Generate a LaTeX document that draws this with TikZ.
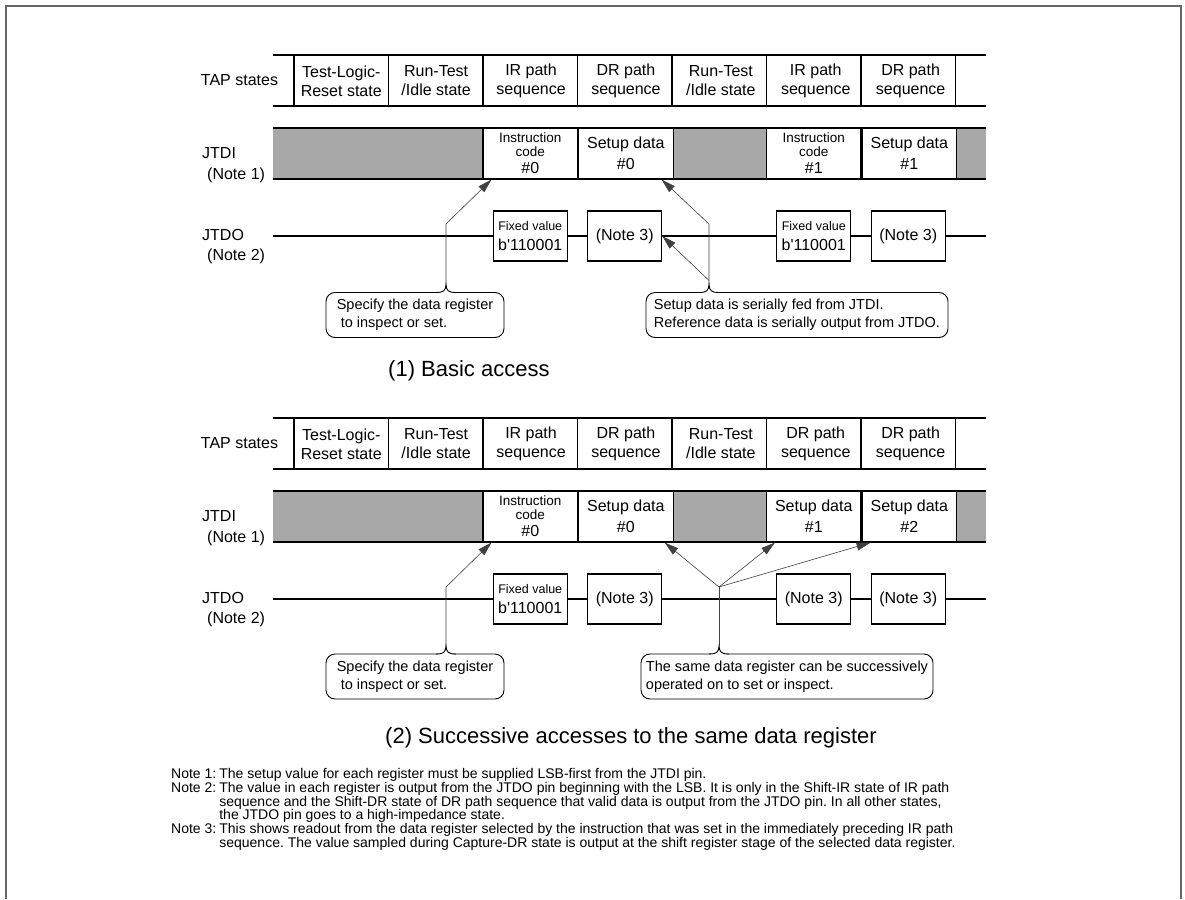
\documentclass[tikz,border=0pt]{standalone}
\usepackage{fontspec}
\setmainfont{Liberation Sans}
\usetikzlibrary{arrows.meta, positioning}
\definecolor{bandgray}{RGB}{168,168,168}
\newcommand\hookat[1]{%
  \draw[white, line width=2.5pt] ([xshift=-8pt]#1) -- ([xshift=8pt]#1);
  \draw[line width=0.9pt] ([xshift=-10pt]#1) .. controls ([xshift=-2pt]#1) and ([xshift=-0.5pt,yshift=2pt]#1) .. ([yshift=8pt]#1)
    .. controls ([xshift=0.5pt,yshift=2pt]#1) and ([xshift=2pt]#1) .. ([xshift=10pt]#1);}
\tikzset{
  rowline/.style={line width=1.8pt},
  sepline/.style={line width=1.1pt},
  lbl/.style={font=\fontsize{16}{19}\selectfont, inner sep=0pt},
  statecell/.style={lbl, align=center, minimum width=94.5pt, minimum height=50pt},
  datacell/.style={draw, sepline, fill=white, minimum width=94.5pt, minimum height=51pt,
    align=center, inner sep=0pt, font=\fontsize{16}{21}\selectfont},
  instrcell/.style={datacell, font=\fontsize{13.5}{14}\selectfont},
  valbox/.style={draw, sepline, fill=white, minimum width=74pt, minimum height=50pt,
    align=center, inner sep=0pt, font=\fontsize{16}{19}\selectfont},
  fixbox/.style={valbox, font=\fontsize{12.5}{20}\selectfont},
  callbox/.style={draw, line width=0.9pt, rounded corners=9pt, align=left, inner sep=0pt,
    minimum height=45pt, font=\fontsize{14.5}{18}\selectfont},
  caption/.style={anchor=west, inner sep=0pt, font=\fontsize{22}{26}\selectfont},
  ptr/.style={draw=black!75, line width=0.6pt, -{Triangle[length=14pt,width=8pt]}},
  ptrline/.style={draw=black!75, line width=0.6pt}
}

\begin{document}
\frenchspacing
\begin{tikzpicture}[x=1pt, y=-1pt]
\useasboundingbox (0,0) rectangle (1185,899);
\draw[draw=black!60, line width=2pt] (6,899) -- (6,6) -- (1181,6) -- (1181,899);

% (1) basic access
\node[lbl] (tap1) at (239.5,80) {TAP states};
\draw[rowline] (273,55) -- (986,55);
\draw[rowline] (273,106) -- (986,106);
\foreach \x in {294,388.5,...,956} \draw[sepline] (\x,55) -- (\x,106);
\node[statecell] (st11) at (341.25,81) {Test-Logic-\\Reset state};
\node[statecell, right=0pt of st11] (st12) {Run-Test\\/Idle state};
\node[statecell, right=0pt of st12] (st13) {IR path\\sequence};
\node[statecell, right=0pt of st13] (st14) {DR path\\sequence};
\node[statecell, right=0pt of st14] (st15) {Run-Test\\/Idle state};
\node[statecell, right=0pt of st15] (st16) {IR path\\sequence};
\node[statecell, right=0pt of st16] (st17) {DR path\\sequence};

\node[lbl, anchor=west, align=left] (jtdi1) at (202,165.5) {JTDI\\[2pt]\hspace{5pt}(Note 1)};
\fill[bandgray] (273,128) rectangle (986,179);
\node[instrcell] (ic0) at (530.25,153.5) {Instruction\\code\\[3pt]\fontsize{16}{19}\selectfont\#0};
\node[datacell, right=0pt of ic0] (sd0) {Setup data\\\#0};
\node[instrcell] (ic1) at (813.75,153.5) {Instruction\\code\\[3pt]\fontsize{16}{19}\selectfont\#1};
\node[datacell, right=0pt of ic1] (sd1) {Setup data\\\#1};
\draw[rowline] (273,128) -- (986,128);
\draw[rowline] (273,179) -- (986,179);

\node[lbl, anchor=west, align=left] (jtdo1) at (202,247) {JTDO\\[1pt]\hspace{5pt}(Note 2)};
\draw[line width=1.4pt] (273,236) -- (986,236);
\node[fixbox] (fv0) at (530.25,236) {Fixed value\\\fontsize{16}{19}\selectfont b\textquotesingle 110001};
\node[valbox] (nt0) at (624.75,236) {(Note 3)};
\node[fixbox] (fv1) at (813.75,236) {Fixed value\\\fontsize{16}{19}\selectfont b\textquotesingle 110001};
\node[valbox] (nt1) at (908.25,236) {(Note 3)};

\node[callbox, minimum width=178pt] (spec1) at (415,315) {Specify the data register\\\hspace{4pt}to inspect or set.};
\node[callbox, minimum width=302pt] (feed1) at (797,315) {Setup data is serially fed from JTDI.\\Reference data is serially output from JTDO.};
\coordinate (hk1) at (446,292.5);
\coordinate (hk2) at (709,292.5);
\hookat{hk1}
\hookat{hk2}
\coordinate (bend1) at (446,224);
\coordinate (bend2) at (709,224);
\draw[ptr] ([yshift=8pt]hk1) -- (bend1) -- ([xshift=9pt]ic0.south west);
\draw[ptr] ([yshift=8pt]hk2) -- (bend2) -- ([xshift=-12pt]sd0.south east);
\draw[ptr] ([yshift=12pt]hk2) -- (nt0.east);
\node[caption] (cap1) at (388,371) {(1) Basic access};

% (2) successive accesses
\begin{scope}[shift={(0,363)}]
\node[lbl] (tap2) at (239.5,80) {TAP states};
\draw[rowline] (273,55) -- (986,55);
\draw[rowline] (273,106) -- (986,106);
\foreach \x in {294,388.5,...,956} \draw[sepline] (\x,55) -- (\x,106);
\node[statecell] (st21) at (341.25,81) {Test-Logic-\\Reset state};
\node[statecell, right=0pt of st21] (st22) {Run-Test\\/Idle state};
\node[statecell, right=0pt of st22] (st23) {IR path\\sequence};
\node[statecell, right=0pt of st23] (st24) {DR path\\sequence};
\node[statecell, right=0pt of st24] (st25) {Run-Test\\/Idle state};
\node[statecell, right=0pt of st25] (st26) {DR path\\sequence};
\node[statecell, right=0pt of st26] (st27) {DR path\\sequence};

\node[lbl, anchor=west, align=left] (jtdi2) at (202,165.5) {JTDI\\[2pt]\hspace{5pt}(Note 1)};
\fill[bandgray] (273,128) rectangle (986,179);
\node[instrcell] (ic0b) at (530.25,153.5) {Instruction\\code\\[3pt]\fontsize{16}{19}\selectfont\#0};
\node[datacell, right=0pt of ic0b] (sd0b) {Setup data\\\#0};
\node[datacell] (sd1b) at (813.75,153.5) {Setup data\\\#1};
\node[datacell, right=0pt of sd1b] (sd2b) {Setup data\\\#2};
\draw[rowline] (273,128) -- (986,128);
\draw[rowline] (273,179) -- (986,179);

\node[lbl, anchor=west, align=left] (jtdo2) at (202,247) {JTDO\\[1pt]\hspace{5pt}(Note 2)};
\draw[line width=1.4pt] (273,236) -- (986,236);
\node[fixbox] (fv0b) at (530.25,236) {Fixed value\\\fontsize{16}{19}\selectfont b\textquotesingle 110001};
\node[valbox] (nt0b) at (624.75,236) {(Note 3)};
\node[valbox] (nt1b) at (813.75,236) {(Note 3)};
\node[valbox] (nt2b) at (908.25,236) {(Note 3)};

\node[callbox, minimum width=178pt] (spec2) at (415,313.5) {Specify the data register\\\hspace{4pt}to inspect or set.};
\node[callbox, minimum width=292pt] (same2) at (787,313.5) {The same data register can be successively\\operated on to set or inspect.};
\coordinate (hk3) at (446,291);
\coordinate (hk4) at (719,291);
\hookat{hk3}
\hookat{hk4}
\coordinate (bend3) at (446,224);
\coordinate (bend4) at (719,224);
\draw[ptr] ([yshift=8pt]hk3) -- (bend3) -- ([xshift=9pt]ic0b.south west);
\draw[ptrline] ([yshift=8pt]hk4) -- (bend4);
\draw[ptr] (bend4) -- ([xshift=-9pt]sd0b.south east);
\draw[ptr] (bend4) -- ([xshift=9pt]sd1b.south west);
\draw[ptr] (bend4) -- ([xshift=9pt]sd2b.south west);
\node[caption] (cap2) at (385,375) {(2) Successive accesses to the same data register};
\end{scope}

% notes
\node[anchor=north west, inner sep=0pt, font=\fontsize{14}{12.4}\selectfont] (notes) at (171,768)
{\begin{tabular}{@{}l@{\hspace{3pt}}l@{}}
Note 1: & The setup value for each register must be supplied LSB-first from the JTDI pin.\\
Note 2: & The value in each register is output from the JTDO pin beginning with the LSB. It is only in the Shift-IR state of IR path\\
 & sequence and the Shift-DR state of DR path sequence that valid data is output from the JTDO pin. In all other states,\\
 & the JTDO pin goes to a high-impedance state.\\
Note 3: & This shows readout from the data register selected by the instruction that was set in the immediately preceding IR path\\
 & sequence. The value sampled during Capture-DR state is output at the shift register stage of the selected data register.
\end{tabular}};
\end{tikzpicture}
\end{document}
